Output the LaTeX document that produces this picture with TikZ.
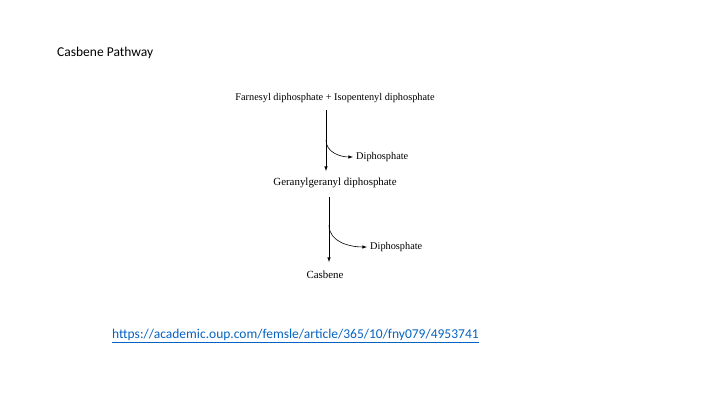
\documentclass[tikz,border=0pt]{standalone}
\usepackage{fontspec}
\setmainfont{Liberation Serif}
\newfontfamily\slidefont{Carlito}
\usetikzlibrary{arrows,calc,positioning}
\definecolor{linkblue}{RGB}{5,99,193}

\begin{document}
\begin{tikzpicture}[x=1pt,y=-1pt,
	chem/.style={inner sep=0pt,font=\fontsize{10.3}{12}\selectfont},
	slide/.style={inner sep=0pt,anchor=west,font=\slidefont\fontsize{13.5}{16}\selectfont},
	rxn/.style={-latex,line width=0.6pt}]
	\useasboundingbox (0,0) rectangle (720,405);

	\node[slide] at (57,53) (title) {Casbene Pathway};

	\node[chem] at (335,98) (fpp) {Farnesyl diphosphate + Isopentenyl diphosphate};
	\node[chem,font=\fontsize{10.9}{13}\selectfont] at (335,183) (ggpp) {Geranylgeranyl diphosphate};
	\node[chem,font=\fontsize{10.9}{13}\selectfont] at (325,275) (casb) {Casbene};
	\node[chem,anchor=west] at (356,157) (dp1) {Diphosphate};
	\node[chem,anchor=west] at (370,247) (dp2) {Diphosphate};

	\coordinate (s1) at (326,110);
	\coordinate (b1) at (326,140);
	\coordinate (e1) at (326,171);
	\coordinate (s2) at (329,197);
	\coordinate (b2) at (329,225);
	\coordinate (e2) at (329,262);

	\draw[rxn] (s1) -- (e1);
	\draw[rxn] (b1) to[out=-90,in=180] ($(dp1.west)+(-3,0)$);
	\draw[rxn] (s2) -- (e2);
	\draw[rxn] (b2) to[out=-90,in=180] ($(dp2.west)+(-3,0)$);

	\node[slide,text=linkblue] at (112,336) (url) {\underline{https://academic.oup.com/femsle/article/365/10/fny079/4953741}};
\end{tikzpicture}
\end{document}
